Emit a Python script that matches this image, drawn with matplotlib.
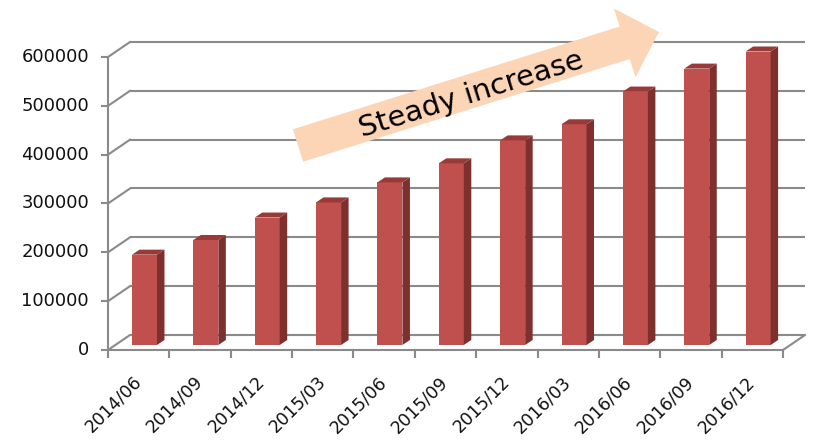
import matplotlib
matplotlib.use("Agg")
import matplotlib.pyplot as plt
from matplotlib.patches import Polygon, FancyArrow
from matplotlib.transforms import Affine2D
import numpy as np

categories = ["2014/06", "2014/09", "2014/12", "2015/03", "2015/06", "2015/09",
              "2015/12", "2016/03", "2016/06", "2016/09", "2016/12"]
values = [185000, 215000, 261000, 292000, 333000, 372000,
          419000, 452000, 519000, 566000, 601000]
yticks = [0, 100000, 200000, 300000, 400000, 500000, 600000]
annotation = "Steady increase"

W, H, DPI = 818, 441, 100
fig = plt.figure(figsize=(W / DPI, H / DPI), dpi=DPI)

# front plane of the 3D box in pixel coords
x_left, x_right = 108, 783
y_zero, y_top = 350, 57
ax = fig.add_axes([x_left / W, 1 - y_zero / H, (x_right - x_left) / W, (y_zero - y_top) / H])
n = len(categories)
ymax = 600000
ax.set_xlim(-0.5, n - 0.5)
ax.set_ylim(0, ymax)
ax.axis("off")

px_x = (x_right - x_left) / n          # pixels per category
px_y = (y_zero - y_top) / ymax         # pixels per value unit

def dxp(p):
    return p / px_x

def dyp(p):
    return p / px_y

grid_c = "#8A8A8A"
glw = 1.5
# depth of the box
DX, DY = dxp(22), dyp(15)

# back wall gridlines + left wall diagonals
for v in yticks:
    ax.plot([-0.5 + DX, n - 0.5 + DX], [v + DY, v + DY], color=grid_c, lw=glw,
            clip_on=False, zorder=1, solid_capstyle="butt")
    ax.plot([-0.5, -0.5 + DX], [v, v + DY], color=grid_c, lw=glw, clip_on=False, zorder=1)
    # y tick
    ax.plot([-0.5 - dxp(6), -0.5], [v, v], color=grid_c, lw=glw, clip_on=False, zorder=1)
    ax.text(-0.5 - dxp(19), v, f"{v}", ha="right", va="center", fontsize=13,
            color="#111111")

# front y axis
ax.plot([-0.5, -0.5], [0, ymax], color=grid_c, lw=glw, clip_on=False, zorder=1)
# floor front edge and right diagonal
ax.plot([-0.5, n - 0.5], [0, 0], color=grid_c, lw=glw, clip_on=False, zorder=5)
ax.plot([n - 0.5, n - 0.5 + DX], [0, DY], color=grid_c, lw=glw, clip_on=False, zorder=5)
# x ticks
for b in np.arange(-0.5, n, 1.0):
    ax.plot([b, b], [0, -dyp(7)], color=grid_c, lw=glw, clip_on=False, zorder=5)

# bars
x = np.arange(n)
bw = dxp(25)
ox, oy = dxp(5.8), dyp(5)
bx, by = dxp(7.5), dyp(5)
front_c, side_c, top_c = "#C0504D", "#7D302E", "#983A38"
ax.bar(x + ox, values, width=bw, bottom=oy, color=front_c, zorder=3, clip_on=False,
       linewidth=0)
for xi, v in zip(x, values):
    xl = xi + ox - bw / 2
    xr = xi + ox + bw / 2
    side = Polygon([(xr, oy), (xr + bx, oy + by), (xr + bx, v + oy + by), (xr, v + oy)],
                   closed=True, facecolor=side_c, edgecolor="none", zorder=3, clip_on=False)
    top = Polygon([(xl, v + oy), (xr, v + oy), (xr + bx, v + oy + by), (xl + bx, v + oy + by)],
                  closed=True, facecolor=top_c, edgecolor="none", zorder=3, clip_on=False)
    ax.add_patch(side)
    ax.add_patch(top)

# x labels
for xi, lab in zip(x, categories):
    ax.text(xi + dxp(0), -dyp(29), lab, rotation=45, rotation_mode="anchor",
            ha="right", va="center", fontsize=12.5, color="#111111")

# arrow annotation in reference pixel coordinates
pix = Affine2D().scale(1 / W, -1 / H).translate(0, 1) + fig.transFigure
tail = (298, 145.5)
tip = (659, 32)
arr = FancyArrow(tail[0], tail[1], tip[0] - tail[0], tip[1] - tail[1], width=34,
                 head_width=72, head_length=36, length_includes_head=True,
                 transform=pix, facecolor="#FBD5B5", edgecolor="none", zorder=2)
fig.add_artist(arr)
ang = np.degrees(np.arctan2(tail[1] - tip[1], tip[0] - tail[0]))
fig.text(471 / W, 1 - 95 / H, annotation, rotation=ang, rotation_mode="anchor",
         ha="center", va="center", fontsize=21, color="black")

fig.savefig("out.png", dpi=DPI)
